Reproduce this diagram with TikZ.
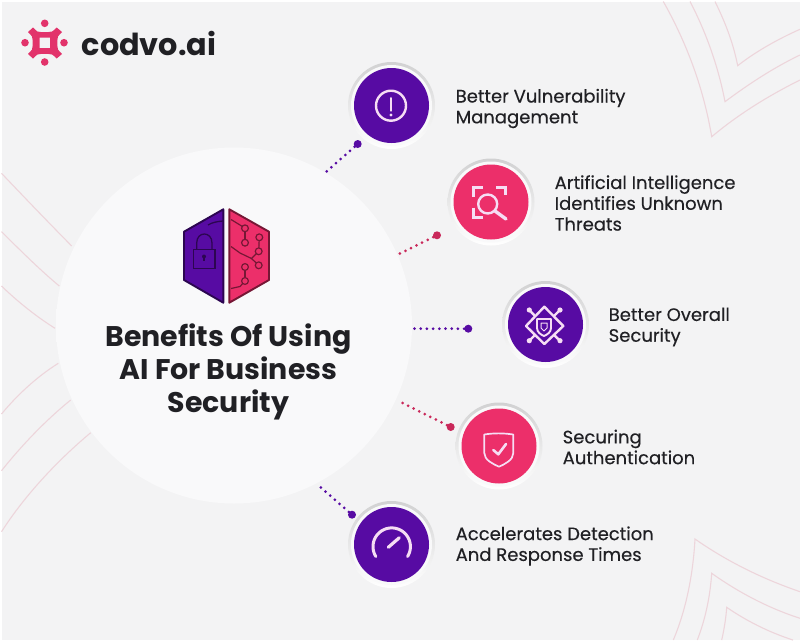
\documentclass[tikz,border=0pt]{standalone}
\usepackage{fontspec}
\setmainfont{Poppins}
\newfontfamily\medfont[FakeBold=0.3]{Poppins}
\usetikzlibrary{shadings}
\definecolor{bgc}{HTML}{F3F3F4}
\definecolor{purp}{HTML}{570BA3}
\definecolor{pinkc}{HTML}{EC2F6A}
\definecolor{inkc}{HTML}{202024}
\definecolor{wire}{HTML}{EDD5DB}
\definecolor{iconc}{HTML}{F6DDF4}
\definecolor{logoc}{HTML}{E2336B}
\pgfdeclareradialshading{bigdisc}{\pgfpoint{0bp}{0bp}}{
  color(0bp)=(white!50!bgc);color(34bp)=(white!50!bgc);color(44bp)=(white!30!bgc);color(48bp)=(black!1!bgc);color(50bp)=(black!4!bgc)}
\tikzset{
  x=1pt,y=-1pt,
  wireline/.style={draw=wire,line width=1.1pt},
  ring/.style={circle,minimum size=87pt,inner sep=0pt,top color=black!14!bgc,bottom color=white},
  ringin/.style={circle,minimum size=81pt,inner sep=0pt,fill=white!50!bgc},
  purpdisc/.style={circle,minimum size=75pt,inner sep=0pt,fill=purp},
  pinkdisc/.style={circle,minimum size=75pt,inner sep=0pt,fill=pinkc},
  enddot/.style={circle,minimum size=8pt,inner sep=0pt},
  dotline/.style={line width=3pt,line cap=round,dash pattern=on 0pt off 6.2pt},
  ico/.style={draw=iconc,line width=2.4pt,line cap=round,line join=round},
  bodytext/.style={anchor=west,align=left,inner sep=0pt,text=inkc,font=\medfont\fontsize{18}{20.8}\selectfont},
  hexl/.style={line width=0.9pt,line join=round}
}
\begin{document}
\begin{tikzpicture}
\useasboundingbox (0,0) rectangle (800,640);
\fill[white] (0,0) rectangle (800,640);
\fill[bgc] (1.5,1.5) rectangle (800,640);
% background wires
\draw[wireline] (663.3,1.5) .. controls (685,40) and (703,85) .. (711.7,136.7) .. controls (740,113) and (770,95) .. (800,80);
\draw[wireline] (690,1.5) .. controls (705,30) and (718,65) .. (725,101.7) .. controls (750,83) and (775,67) .. (800,55);
\draw[wireline] (715,1.5) .. controls (725,22) and (733,42) .. (737.7,65.7) .. controls (755,52) and (778,39) .. (800,29.3);
\draw[wireline] (673.3,640) .. controls (686,610) and (693,575) .. (695,539) .. controls (725,560) and (760,578) .. (800,591.7);
\draw[wireline] (697.3,640) .. controls (705,620) and (710,598) .. (711.7,573.3) .. controls (738,592) and (768,608) .. (800,618.3);
\draw[wireline] (721.7,640) .. controls (724,630) and (726,618) .. (726.7,607.3) .. controls (745,620) and (768,632) .. (793,640);
\draw[wireline] (1.5,173.3) .. controls (25,198) and (48,222) .. (71.7,246);
\draw[wireline] (1.5,231.7) .. controls (20,250) and (40,270) .. (59.3,286);
\draw[wireline] (1.5,286) .. controls (18,302) and (37,317) .. (55,328.3);
\draw[wireline] (58.3,363.3) .. controls (38,376) and (18,394) .. (1.5,414);
\draw[wireline] (70.7,400) .. controls (46,420) and (22,445) .. (1.5,470.7);
\draw[wireline] (90.7,432.7) .. controls (58,460) and (25,495) .. (1.5,531.7);
% big disc
\path[shading=bigdisc] (234,325.5) circle (178);
% logo
\foreach \px/\py in {44.7/23.3,25/42.7,64/42.7,44.7/62}
  \fill[logoc] (\px,\py) circle (3.8);
\fill[logoc,even odd rule]
  (33,27.5) .. controls (35,29.5) and (36,30.5) .. (37.5,31.5) .. controls (42,32.5) and (47,32.5) .. (52,31.5) .. controls (53.5,30.5) and (55,29.5) .. (56.7,27.5)
  -- (62,32) .. controls (60,34) and (59,35) .. (58,36.5) .. controls (57,41) and (57,45) .. (58,49.5) .. controls (59,51) and (60,52) .. (62,54)
  -- (56.7,58.5) .. controls (55,56.5) and (53.5,55.5) .. (52,54.5) .. controls (47,53.5) and (42,53.5) .. (37.5,54.5) .. controls (36,55.5) and (35,56.5) .. (33,58.5)
  -- (28,54) .. controls (30,52) and (31,51) .. (32,49.5) .. controls (33,45) and (33,41) .. (32,36.5) .. controls (31,35) and (30,34) .. (28,32) -- cycle
  (39.7,37.7) rectangle (50.2,48.2);
\node[anchor=west,inner sep=0pt,text=inkc,font=\bfseries\fontsize{30.3}{32}\selectfont] (logotext) at (81.5,43) {codvo.ai};
% hexagon
\fill[purp,draw=purp!50!black,hexl,line width=1.9pt] (223.3,209.3) -- (184,231.7) -- (184,280) -- (223.3,302.7) -- cycle;
\fill[pinkc,draw=pinkc!50!black,hexl,line width=1.9pt] (229.3,209.3) -- (269,231.7) -- (269,280) -- (229.3,302.7) -- cycle;
\begin{scope}[draw=purp!50!black,line width=1.3pt]
  \draw (193.3,249.3) rectangle (215,268.3);
  \draw (196.7,249.3) -- (196.7,243) .. controls (196.7,231) and (212,231) .. (212,243) -- (212,249.3);
  \draw (208,225) .. controls (212,222.5) and (217,221.5) .. (223,221);
  \fill[purp!50!black] (204,256.5) circle (2);
  \draw (204,257) -- (204,261);
\end{scope}
\begin{scope}[draw=pinkc!50!black,line width=1.2pt]
  \draw (231,219.5) -- (240,225) -- (245,228.3);
  \draw (245,228.3) -- (245,242.7);
  \draw (259.3,237.3) -- (258.7,251.3);
  \draw (231,246.5) -- (240,253) -- (251.5,258.5) -- (258.7,251.3);
  \draw (251.5,258.5) -- (258.7,265.3);
  \draw (245,267) -- (245,281);
  \draw (231,288.5) -- (240,286.5) -- (245,281);
  \foreach \cx/\cy in {245/228.3,245/242.7,259.3/237.3,258.7/251.3,258.7/265.3,245/267,245/281}
    \filldraw[fill=pinkc] (\cx,\cy) circle (3.4);
\end{scope}
% title
\node[align=center,inner sep=0pt,text=inkc,font=\bfseries\fontsize{28.4}{32.7}\selectfont] (title) at (228.5,372) {Benefits Of Using\\AI For Business\\Security};
% discs
\node[ring] (r1) at (391.5,105.5) {};
\node[ringin] at (391.5,105.5) {};
\node[purpdisc] (c1) at (391.5,105.5) {};
\node[ring] (r2) at (491,202) {};
\node[ringin] at (491,202) {};
\node[pinkdisc] (c2) at (491,202) {};
\node[ring] (r3) at (545.5,324.5) {};
\node[ringin] at (545.5,324.5) {};
\node[purpdisc] (c3) at (545.5,324.5) {};
\node[ring] (r4) at (499,446) {};
\node[ringin] at (499,446) {};
\node[pinkdisc] (c4) at (499,446) {};
\node[ring] (r5) at (391.5,544.5) {};
\node[ringin] at (391.5,544.5) {};
\node[purpdisc] (c5) at (391.5,544.5) {};
% connectors
\node[enddot,fill=purp] (d1) at (357.7,144) {};
\coordinate (e1) at (326,172);
\draw[dotline,draw=purp] (d1) -- (e1);
\node[enddot,fill=pinkc!85!black] (d2) at (437,235.3) {};
\coordinate (e2) at (399,254);
\draw[dotline,draw=pinkc!85!black] (d2) -- (e2);
\node[enddot,fill=purp] (d3) at (468.3,328.7) {};
\coordinate (e3) at (413.3,328.7);
\draw[dotline,draw=purp] (d3) -- (e3);
\node[enddot,fill=pinkc!85!black] (d4) at (450.7,427) {};
\coordinate (e4) at (400,401.7);
\draw[dotline,draw=pinkc!85!black] (d4) -- (e4);
\node[enddot,fill=purp] (d5) at (352,514.7) {};
\coordinate (e5) at (320,486.7);
\draw[dotline,draw=purp] (d5) -- (e5);
% icon 1
\draw[ico] (391,105.7) circle (15);
\draw[ico,line width=2.8pt] (391,98.3) -- (391,110.5);
\fill[iconc] (391,115) circle (1.7);
% icon 2
\draw[ico] (487.7,204) circle (9.5);
\draw[ico,line width=3.4pt] (495,211) -- (506,219);
\draw[ico,line cap=butt,line join=miter] (473.3,196.7) -- (473.3,187.3) -- (482.7,187.3);
\draw[ico,line cap=butt,line join=miter] (496,187.3) -- (505.3,187.3) -- (505.3,195);
\draw[ico,line cap=butt,line join=miter] (473.3,207.7) -- (473.3,217.3) -- (483.3,217.3);
% icon 3
\draw[ico] (544.3,306.7) -- (563.3,326) -- (544.3,344) -- (526,326) -- cycle;
\draw[ico] (529.3,310) -- (535,316);
\draw[ico] (560,310) -- (554,316);
\draw[ico] (529.3,340.7) -- (535,335);
\draw[ico] (560,340.7) -- (554,335);
\foreach \cx/\cy in {529.3/310,560/310,529.3/340.7,560/340.7}
  \fill[iconc] (\cx,\cy) circle (2.6);
\draw[ico,line width=1.9pt] (537,319) -- (551,319) -- (551,328) .. controls (551,332) and (547.5,334.5) .. (544,336) .. controls (540.5,334.5) and (537,332) .. (537,328) -- cycle;
\draw[ico,line width=1pt] (541,323) -- (547,323) -- (547,328) -- (544,331) -- (541,328) -- cycle;
% icon 4
\draw[ico,line width=1.7pt] (484.3,434.5) .. controls (494,433) and (503,433) .. (513.3,434.5) -- (513.3,453) .. controls (513.3,460) and (505,464) .. (499,466.7) .. controls (493,464) and (484.3,460) .. (484.3,453) -- cycle;
\draw[ico,line width=2.6pt] (493.3,450) -- (498.3,454.3) -- (506,444);
% icon 5
\draw[ico,line width=3pt] plot[domain=148:392,samples=50] ({391.7+18.7*cos(\x)},{546.6+18.7*sin(\x)});
\draw[ico,line width=3.2pt] (388.3,547.3) -- (399.3,537.7);
% texts
\node[bodytext] (t1) at (455.5,108.5) {Better Vulnerability\\Management};
\node[bodytext] (t2) at (554.5,203) {Artificial Intelligence\\Identifies Unknown\\Threats};
\node[bodytext] (t3) at (608.5,327) {Better Overall\\Security};
\node[bodytext] (t4) at (562.5,447) {Securing\\Authentication};
\node[bodytext] (t5) at (455.5,546) {Accelerates Detection\\And Response Times};
\end{tikzpicture}
\end{document}
